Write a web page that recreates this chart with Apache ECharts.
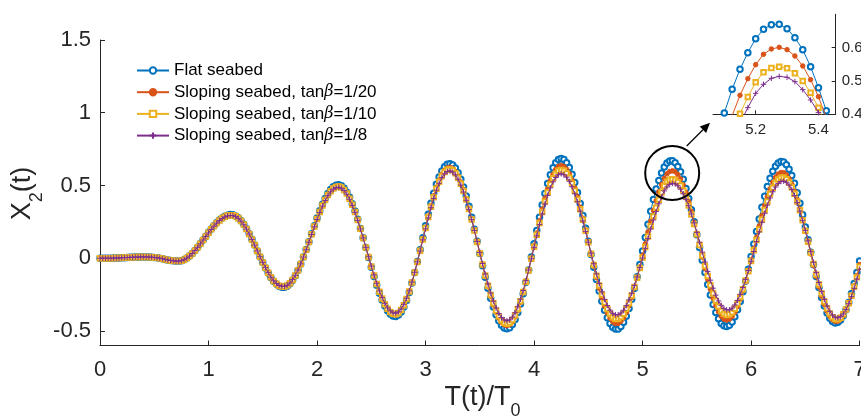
<!DOCTYPE html>
<html>
<head>
<meta charset="utf-8">
<script src="https://cdn.jsdelivr.net/npm/echarts@6/dist/echarts.min.js"></script>
<style>
html,body{margin:0;padding:0;background:#fff;overflow:hidden;}
#chart{width:861px;height:419px;}
</style>
</head>
<body>
<div id="chart"></div>
<script>
// time grid step 0.025 from 0 to 7
const T = Array.from({length: 281}, (_, i) => Math.round(i * 25) / 1000);

const seriesNames = ['Flat seabed', 'Sloping seabed, tanβ=1/20', 'Sloping seabed, tanβ=1/10', 'Sloping seabed, tanβ=1/8'];
const xTicks = [0, 1, 2, 3, 4, 5, 6, 7];
const yTicks = [-0.5, 0, 0.5, 1, 1.5];
const insetXTicks = [5.2, 5.4];
const insetYTicks = [0.4, 0.5, 0.6];

const flat = [
0,0,0,0,0,.001,.001,.002,.003,.004,.005,.006,.007,.008,.008,.009,.009,.009,.008,.007,.005,.003,0,-.004,-.008,-.012,-.015,-.018,-.02,-.02,
-.017,-.01,.001,.015,.032,.053,.075,.099,.125,.15,.176,.2,.223,.244,.262,.277,.288,.296,.3,
.299,.291,.278,.258,.233,.202,.168,.13,.091,.05,.009,-.03,-.068,-.102,-.133,-.158,-.178,-.192,-.199,
-.199,-.192,-.176,-.152,-.121,-.083,-.04,.009,.06,.114,.169,.223,.276,.326,.371,.411,.445,.472,.491,.502,
.505,.498,.481,.454,.419,.375,.324,.267,.205,.14,.073,.005,-.062,-.125,-.185,-.24,-.288,-.329,-.361,-.384,-.397,
-.4,-.391,-.369,-.335,-.29,-.235,-.17,-.099,-.022,.059,.141,.223,.303,.378,.447,.508,.559,.6,.629,.646,
.65,.641,.62,.587,.543,.49,.427,.357,.281,.199,.116,.032,-.051,-.131,-.206,-.275,-.336,-.388,-.43,-.46,-.479,-.485,
-.478,-.456,-.421,-.373,-.314,-.244,-.166,-.081,.009,.1,.191,.281,.366,.444,.514,.573,.621,.656,.678,.685,
.678,.657,.623,.577,.52,.452,.376,.293,.206,.117,.026,-.062,-.147,-.225,-.296,-.358,-.409,-.448,-.475,-.487,
-.486,-.47,-.441,-.399,-.346,-.282,-.209,-.128,-.043,.05,.142,.234,.322,.404,.475,.535,.585,.627,.655,.669,
.67,.657,.63,.594,.543,.48,.411,.333,.25,.162,.074,-.014,-.099,-.18,-.253,-.318,-.373,-.416,-.448,-.465,
-.47,-.46,-.438,-.402,-.355,-.298,-.231,-.156,-.075,.011,.098,.184,.269,.351,.426,.493,.55,.597,.633,.655,.665,
.661,.643,.612,.569,.515,.45,.378,.298,.214,.127,.041,-.045,-.126,-.202,-.27,-.329,-.376,-.412,-.435,-.445,
-.441,-.424,-.396,-.355,-.304,-.243,-.174,-.099,-.019
];

const slope20 = [
0,0,0,0,0,.001,.001,.002,.003,.004,.005,.006,.007,.008,.008,.009,.009,.009,.008,.007,.005,.003,0,-.004,-.008,-.012,-.015,-.018,-.02,-.02,
-.017,-.01,.001,.015,.032,.053,.075,.099,.125,.15,.176,.2,.222,.243,.261,.276,.286,.294,.298,
.297,.289,.276,.257,.232,.201,.167,.13,.091,.05,.01,-.029,-.067,-.101,-.132,-.157,-.176,-.19,-.197,
-.197,-.19,-.174,-.15,-.12,-.083,-.04,.008,.058,.112,.166,.219,.271,.32,.365,.405,.438,.464,.483,.494,
.497,.49,.473,.447,.412,.369,.32,.264,.203,.139,.074,.007,-.058,-.12,-.179,-.233,-.281,-.32,-.352,-.374,-.387,
-.39,-.381,-.36,-.327,-.283,-.23,-.168,-.099,-.024,.054,.133,.212,.29,.362,.429,.488,.537,.577,.605,.621,
.625,.616,.596,.565,.523,.472,.411,.344,.271,.193,.113,.032,-.048,-.124,-.197,-.262,-.321,-.371,-.411,-.44,-.458,-.464,
-.457,-.437,-.404,-.359,-.303,-.237,-.163,-.083,.001,.087,.173,.257,.337,.411,.477,.533,.578,.611,.631,.638,
.631,.612,.581,.538,.485,.422,.351,.275,.194,.111,.027,-.055,-.133,-.206,-.272,-.33,-.377,-.413,-.438,-.449,
-.448,-.434,-.41,-.373,-.326,-.27,-.205,-.135,-.06,.02,.099,.18,.256,.329,.396,.457,.507,.549,.58,.596,
.601,.594,.575,.545,.504,.453,.39,.321,.247,.168,.088,.008,-.071,-.145,-.214,-.275,-.327,-.369,-.4,-.419,
-.425,-.419,-.401,-.372,-.332,-.282,-.224,-.158,-.086,-.011,.067,.144,.222,.295,.363,.424,.478,.522,.556,.578,.589,
.588,.574,.548,.51,.462,.404,.338,.266,.189,.11,.029,-.05,-.126,-.197,-.261,-.318,-.364,-.399,-.423,-.434,
-.433,-.42,-.394,-.357,-.31,-.254,-.19,-.119,-.044
];

const slope10 = [
0,0,0,0,0,.001,.001,.002,.003,.004,.005,.006,.007,.008,.008,.009,.009,.009,.008,.007,.005,.003,0,-.004,-.008,-.012,-.015,-.018,-.02,-.02,
-.017,-.01,.001,.015,.032,.053,.075,.099,.125,.15,.175,.199,.221,.242,.26,.275,.285,.293,.296,
.295,.288,.275,.256,.231,.2,.166,.129,.09,.05,.01,-.029,-.066,-.1,-.131,-.156,-.175,-.189,-.195,
-.195,-.188,-.172,-.149,-.119,-.082,-.039,.008,.058,.111,.165,.218,.269,.318,.362,.401,.434,.461,.48,.49,
.493,.486,.469,.444,.409,.367,.317,.262,.202,.139,.074,.008,-.057,-.118,-.177,-.23,-.277,-.316,-.347,-.369,-.382,
-.385,-.376,-.356,-.323,-.28,-.228,-.167,-.099,-.026,.051,.129,.207,.283,.354,.419,.477,.526,.565,.592,.608,
.612,.604,.584,.553,.512,.462,.403,.338,.266,.19,.112,.034,-.044,-.119,-.189,-.253,-.31,-.359,-.399,-.427,-.444,-.45,
-.444,-.424,-.392,-.349,-.295,-.232,-.161,-.085,-.004,.079,.161,.242,.318,.389,.452,.506,.549,.581,.601,.607,
.601,.583,.553,.513,.463,.404,.337,.265,.189,.11,.031,-.046,-.12,-.188,-.25,-.305,-.349,-.383,-.406,-.417,
-.416,-.404,-.382,-.348,-.307,-.256,-.198,-.135,-.067,.005,.077,.15,.22,.286,.347,.402,.452,.496,.526,.539,
.543,.538,.523,.5,.465,.42,.362,.301,.235,.164,.091,.018,-.054,-.122,-.186,-.243,-.292,-.332,-.363,-.382,
-.39,-.386,-.372,-.347,-.312,-.267,-.214,-.154,-.089,-.019,.054,.126,.198,.266,.332,.39,.441,.484,.518,.541,.553,
.554,.543,.521,.487,.443,.39,.329,.261,.189,.113,.037,-.039,-.112,-.181,-.243,-.298,-.344,-.38,-.405,-.418,
-.419,-.409,-.386,-.353,-.31,-.258,-.197,-.131,-.059
];

const slope8 = [
0,0,0,0,0,.001,.001,.002,.003,.004,.005,.006,.007,.008,.008,.009,.009,.009,.008,.007,.005,.003,0,-.004,-.008,-.012,-.015,-.018,-.02,-.02,
-.017,-.01,.001,.015,.032,.053,.075,.099,.125,.149,.174,.198,.22,.241,.259,.273,.284,.291,.294,
.293,.286,.274,.255,.23,.2,.166,.129,.09,.05,.01,-.028,-.065,-.099,-.13,-.155,-.174,-.187,-.193,
-.193,-.186,-.171,-.147,-.117,-.081,-.039,.008,.058,.11,.163,.216,.266,.314,.358,.397,.43,.456,.475,.485,
.488,.481,.465,.44,.405,.363,.315,.26,.201,.139,.075,.01,-.054,-.115,-.172,-.225,-.271,-.31,-.341,-.362,-.375,
-.378,-.369,-.349,-.317,-.275,-.224,-.164,-.097,-.025,.05,.126,.202,.277,.347,.411,.468,.515,.554,.58,.596,
.6,.592,.573,.543,.503,.455,.398,.334,.265,.191,.115,.039,-.036,-.109,-.177,-.239,-.295,-.342,-.38,-.407,-.424,-.43,
-.424,-.405,-.375,-.334,-.282,-.222,-.154,-.081,-.004,.075,.154,.231,.304,.372,.432,.484,.525,.555,.574,.58,
.574,.557,.529,.491,.443,.388,.324,.256,.184,.11,.035,-.038,-.108,-.173,-.231,-.283,-.325,-.357,-.379,-.389,
-.388,-.377,-.357,-.326,-.287,-.241,-.187,-.129,-.065,.001,.068,.135,.201,.263,.321,.374,.42,.463,.49,.508,
.514,.511,.498,.474,.443,.405,.361,.304,.243,.178,.11,.042,-.026,-.091,-.151,-.206,-.254,-.294,-.324,-.345,
-.355,-.354,-.343,-.321,-.29,-.249,-.201,-.147,-.085,-.021,.046,.114,.181,.247,.309,.365,.414,.457,.489,.513,.527,
.53,.522,.502,.472,.431,.382,.324,.26,.191,.119,.045,-.028,-.099,-.167,-.228,-.283,-.329,-.365,-.391,-.406,
-.41,-.402,-.383,-.353,-.313,-.264,-.207,-.144,-.076
];

const COLORS = ['#0072BD', '#D95319', '#EDB120', '#7E2F8E'];
const AX = '#262626';
const FONT = '"Liberation Sans", Arial, Helvetica, sans-serif';
const PLUS = 'path://M0,-5L0,5M-5,0L5,0';

const allData = [flat, slope20, slope10, slope8];
const symbols = ['emptyCircle', 'circle', 'emptyRect', PLUS];
const symSizes = [5.5, 4.5, 4.5, 5.5];

function makeSeries(gridIdx) {
  return allData.map((arr, k) => ({
    name: seriesNames[k],
    type: 'line',
    xAxisIndex: gridIdx,
    yAxisIndex: gridIdx,
    data: T.map((t, i) => [t, arr[i]]),
    symbol: symbols[k],
    symbolSize: symSizes[k],
    showSymbol: true,
    showAllSymbol: true,
    clip: true,
    lineStyle: { color: COLORS[k], width: 1 },
    itemStyle: { color: k === 3 ? 'rgba(0,0,0,0)' : COLORS[k], borderColor: COLORS[k], borderWidth: 1 },
    emphasis: { disabled: true },
    z: 2 + k
  }));
}

const chart = echarts.init(document.getElementById('chart'), null, { renderer: 'canvas' });

const option = {
  animation: false,
  backgroundColor: '#fff',
  textStyle: { fontFamily: FONT },
  grid: [
    { left: 100, right: 1.4, top: 40, bottom: 73.5, containLabel: false, outerBoundsMode: 'none' },
    { left: 713, right: 25.3, top: 14.3, bottom: 304.7, containLabel: false, outerBoundsMode: 'none' }
  ],
  legend: {
    data: seriesNames,
    orient: 'vertical',
    left: 131,
    top: 57,
    itemWidth: 32,
    itemHeight: 8,
    itemGap: 4.7,
    textStyle: {
      fontFamily: FONT, fontSize: 17, color: '#000', lineHeight: 17,
      rich: { b: { fontFamily: '"DejaVu Serif", serif', fontStyle: 'italic', fontSize: 16, color: '#000' } }
    },
    formatter: name => name.replace('β', '{b|β}')
  },
  xAxis: [
    {
      type: 'value', gridIndex: 0, min: 0, max: 7, interval: 1,
      axisLine: { show: true, onZero: false, lineStyle: { color: AX, width: 1 } },
      axisTick: { show: true, inside: true, length: 5, lineStyle: { color: AX } },
      splitLine: { show: false },
      axisLabel: { color: AX, fontSize: 22, fontFamily: FONT, margin: 13, showMaxLabel: true, showMinLabel: true, hideOverlap: false }
    },
    {
      type: 'value', gridIndex: 1, min: 5.064, max: 5.455,
      axisLine: { show: true, onZero: false, lineStyle: { color: AX, width: 1 } },
      axisTick: { show: true, inside: true, length: 4, lineStyle: { color: AX }, customValues: insetXTicks },
      splitLine: { show: false },
      axisLabel: { color: AX, fontSize: 15, fontFamily: FONT, margin: 8, customValues: insetXTicks,
        formatter: v => v.toFixed(1) }
    }
  ],
  yAxis: [
    {
      type: 'value', gridIndex: 0, min: -0.6, max: 1.5,
      axisLine: { show: true, onZero: false, lineStyle: { color: AX, width: 1 } },
      axisTick: { show: true, inside: true, length: 5, lineStyle: { color: AX }, customValues: yTicks },
      splitLine: { show: false },
      axisLabel: { color: AX, fontSize: 22, fontFamily: FONT, margin: 9, customValues: yTicks }
    },
    {
      type: 'value', gridIndex: 1, min: 0.4, max: 0.7, position: 'right',
      axisLine: { show: true, onZero: false, lineStyle: { color: AX, width: 1 } },
      axisTick: { show: true, inside: true, length: 4, lineStyle: { color: AX }, customValues: insetYTicks },
      splitLine: { show: false },
      axisLabel: { color: AX, fontSize: 15, fontFamily: FONT, margin: 6, customValues: insetYTicks,
        formatter: v => v.toFixed(1) }
    }
  ],
  series: makeSeries(0).concat(makeSeries(1))
};

chart.setOption(option);

// annotation: circle around the zoomed peak and arrow towards the inset
const c = chart.convertToPixel({ gridIndex: 0 }, [5.273, 0.586]);
const tip = [710, 122.7];
const start = [686.7, 146];
const dx = tip[0] - start[0], dy = tip[1] - start[1];
const L = Math.hypot(dx, dy), ux = dx / L, uy = dy / L;
const hl = 10, hw = 4.5;
const bx = tip[0] - ux * hl, by = tip[1] - uy * hl;
const titleRich = {
  a: { fontSize: 27, fontFamily: FONT, fill: AX, lineHeight: 44 },
  s: { fontSize: 18, fontFamily: FONT, fill: AX, lineHeight: 18, verticalAlign: 'bottom' }
};
const yTitleRich = {
  a: { fontSize: 27, fontFamily: FONT, fill: AX, lineHeight: 48 },
  s: { fontSize: 18, fontFamily: FONT, fill: AX, lineHeight: 18, verticalAlign: 'bottom' }
};
chart.setOption({
  graphic: [
    { type: 'circle', shape: { cx: c[0], cy: c[1], r: 27 }, style: { fill: 'none', stroke: '#000', lineWidth: 2 }, z: 100 },
    { type: 'line', shape: { x1: start[0], y1: start[1], x2: bx, y2: by }, style: { stroke: '#000', lineWidth: 1.2 }, z: 100 },
    { type: 'polygon', shape: { points: [tip, [bx - uy * hw, by + ux * hw], [bx + uy * hw, by - ux * hw]] }, style: { fill: '#000' }, z: 100 },
    { type: 'text', x: 482.5, y: 398, z: 100,
      style: { text: '{a|T(t)/T}{s|0}', rich: titleRich, align: 'center', verticalAlign: 'middle' } },
    { type: 'text', x: 22.5, y: 193.5, rotation: Math.PI / 2, z: 100,
      style: { text: '{a|X}{s|2}{a|(t)}', rich: yTitleRich, align: 'center', verticalAlign: 'middle' } }
  ]
});
</script>
</body>
</html>
